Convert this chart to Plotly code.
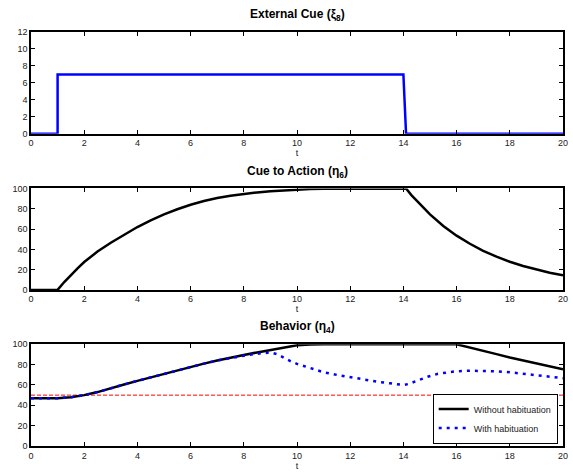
import plotly.graph_objects as go

# ---- data ----
t_cue = [0, 1, 1, 14, 14.1, 20]
cue = [0, 0, 7, 7, 0, 0]

t_action = [0, 1, 1.25, 1.5, 1.75, 2, 2.5, 3, 3.5, 4, 4.5, 5, 5.5, 6, 6.5, 7, 7.5,
            8, 8.5, 9, 9.5, 10, 10.5, 11, 14.1,
            14.3, 14.5, 14.75, 15, 15.5, 16, 16.5, 17, 17.5, 18, 18.5, 19, 19.5, 20]
action = [0, 0, 7.8, 14.9, 21.3, 27.5, 37.8, 46.5, 54.5, 62, 68.5, 74.5, 79.5, 84, 87.6, 90.6, 92.8,
          94.7, 96.1, 97.2, 98.1, 98.8, 99.4, 99.8, 100,
          93.5, 88, 81, 74.5, 63, 53.5, 45.5, 38.6, 32.8, 27.8, 23.6, 20, 17, 14.4]

t_beh = [0, 1, 1.5, 2, 2.5, 3, 3.5, 4, 4.5, 5, 5.5, 6, 6.5, 7, 7.5, 8, 8.5, 9, 9.5, 10, 10.5, 11, 16,
         16.5, 17, 17.5, 18, 18.5, 19, 19.5, 20]
beh_without = [47, 47, 48, 50, 53, 57, 60.5, 64, 67.5, 71, 74.5, 78, 81, 84, 87, 89.5, 92, 94.3, 96.8, 99, 99.8, 100, 100,
               97, 93.7, 90.3, 87, 84, 81, 78.3, 75.5]

t_hab = [0, 1, 1.5, 2, 2.5, 3, 3.5, 4, 4.5, 5, 5.5, 6, 6.5, 7, 7.5, 8, 8.5, 9, 9.25, 9.5, 9.75, 10, 10.5, 11,
         11.5, 12, 12.5, 13, 13.5, 14, 14.2, 14.4, 14.9, 15.3, 15.7, 16, 16.5, 17, 17.5, 18, 18.5, 19, 19.5, 20]
beh_with = [47, 47, 48, 50, 53, 57, 60.5, 64, 67.5, 71, 74.5, 78, 81, 84, 86.7, 88.8, 90.7, 92, 90.3, 86.5, 83.5, 80.7, 76.5, 72.5,
            69.9, 67.6, 65.4, 63.3, 61.6, 60, 61, 63, 68, 71, 72.8, 73.5, 74, 74, 73.5, 72.5, 71, 69.5, 68, 66.7]

threshold = 50

fig = go.Figure()
fig.add_trace(go.Scatter(x=t_cue, y=cue, mode="lines", line=dict(color="#0000ff", width=2.5),
                         showlegend=False, xaxis="x", yaxis="y"))
fig.add_trace(go.Scatter(x=t_action, y=action, mode="lines", line=dict(color="black", width=2.5),
                         showlegend=False, xaxis="x2", yaxis="y2"))
fig.add_trace(go.Scatter(x=[0, 20], y=[threshold, threshold], mode="lines",
                         line=dict(color="#ff0000", width=1, dash="4px,2px"),
                         showlegend=False, xaxis="x3", yaxis="y3"))
fig.add_trace(go.Scatter(x=t_beh, y=beh_without, mode="lines", name="Without habituation",
                         line=dict(color="black", width=2.5),
                         xaxis="x3", yaxis="y3"))
fig.add_trace(go.Scatter(x=t_hab, y=beh_with, mode="lines", name="With habituation",
                         line=dict(color="#0000ff", width=2.5, dash="3px,5px"),
                         xaxis="x3", yaxis="y3"))

FONT = "Liberation Sans, Arial, sans-serif"
tickfont = dict(family=FONT, size=9, color="#222")

def xax(anchor):
    return dict(range=[0, 20], tickvals=list(range(0, 21, 2)), ticks="inside", ticklen=4,
                tickwidth=1, tickcolor="black", mirror="ticks", showline=True, linecolor="black",
                linewidth=1.5, showgrid=False, zeroline=False, tickfont=tickfont, anchor=anchor,
                title=dict(text="t", font=tickfont, standoff=0))

def yax(rng, step, domain, anchor):
    return dict(range=rng, tickvals=list(range(rng[0], rng[1] + 1, step)), ticks="inside", ticklen=4,
                tickwidth=1, tickcolor="black", mirror="ticks", showline=True, linecolor="black",
                linewidth=1.5, showgrid=False, zeroline=False, tickfont=tickfont, domain=domain,
                anchor=anchor)

d1 = [0.754, 1.0]
d2 = [0.377, 0.622]
d3 = [0.0, 0.2457]

titlefont = dict(family=FONT, size=12, color="black")

fig.update_layout(
    width=573, height=473,
    margin=dict(l=31, r=10, t=32, b=27, autoexpand=False),
    paper_bgcolor="white", plot_bgcolor="white",
    xaxis=xax("y"), yaxis=yax([0, 12], 2, d1, "x"),
    xaxis2=xax("y2"), yaxis2=yax([0, 100], 20, d2, "x2"),
    xaxis3=xax("y3"), yaxis3=yax([0, 100], 20, d3, "x3"),
    legend=dict(x=0.99, y=0.006, xanchor="right", yanchor="bottom", bordercolor="black",
                borderwidth=1, bgcolor="white", font=dict(family=FONT, size=9, color="#222"),
                tracegroupgap=0, itemwidth=30),
    annotations=[
        dict(text="<b>External Cue (ξ<sub>8</sub>)</b>", x=0.5, y=1.041, xref="paper", yref="paper",
             showarrow=False, font=titlefont, yanchor="middle"),
        dict(text="<b>Cue to Action (η<sub>6</sub>)</b>", x=0.5, y=0.662, xref="paper", yref="paper",
             showarrow=False, font=titlefont, yanchor="middle"),
        dict(text="<b>Behavior (η<sub>4</sub>)</b>", x=0.5, y=0.287, xref="paper", yref="paper",
             showarrow=False, font=titlefont, yanchor="middle"),
    ],
)

fig.write_html("out.html", config={"displayModeBar": False},
               post_script="document.body.style.margin='0px';document.body.style.padding='0px';")
